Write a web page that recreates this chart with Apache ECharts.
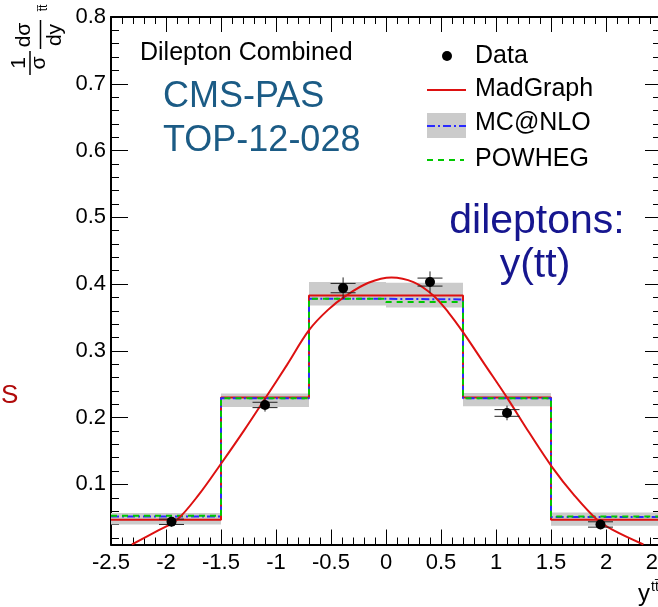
<!DOCTYPE html>
<html>
<head>
<meta charset="utf-8">
<script src="https://cdn.jsdelivr.net/npm/echarts@6.0.0/dist/echarts.min.js"></script>
<style>
  html, body { margin: 0; padding: 0; background: #fff; }
  #main { width: 658px; height: 607px; }
</style>
</head>
<body>
<div id="main"></div>
<script>
// bin edges of the y(ttbar) histogram
var binEdges = [-2.5, -1.5, -0.7, 0, 0.7, 1.5, 2.5];
var madgraph = [0.047, 0.230, 0.383, 0.383, 0.230, 0.047];
var mcatnlo  = [0.052, 0.229, 0.378, 0.377, 0.229, 0.051];
var powheg   = [0.053, 0.229, 0.378, 0.373, 0.229, 0.052];
// grey MC@NLO uncertainty band
var bandLo = [0.040, 0.216, 0.368, 0.365, 0.217, 0.038];
var bandHi = [0.057, 0.236, 0.403, 0.402, 0.237, 0.058];

// data points
var dataX    = [-1.95, -1.10, -0.39, 0.40, 1.10, 1.95];
var dataY    = [0.044, 0.219, 0.394, 0.403, 0.207, 0.040];
var dataErr  = [0.007, 0.010, 0.016, 0.016, 0.011, 0.007];
var dataStat = [0.004, 0.004, 0.007, 0.006, 0.005, 0.004];

// smooth MadGraph curve
var curveX = [-2.31, -2.07, -1.90, -1.70, -1.50, -1.29, -1.09, -0.90, -0.70, -0.53, -0.36, -0.16, 0.05, 0.25, 0.43, 0.57, 0.70, 0.90, 1.10, 1.30, 1.51, 1.71, 1.92, 2.07, 2.34];
var curveY = [0.010, 0.031, 0.047, 0.085, 0.131, 0.181, 0.231, 0.279, 0.331, 0.361, 0.383, 0.402, 0.410, 0.403, 0.383, 0.357, 0.328, 0.279, 0.230, 0.178, 0.126, 0.084, 0.047, 0.031, 0.010];

// ticks
var yMajorTicks = [0.1, 0.2, 0.3, 0.4, 0.5, 0.6, 0.7, 0.8];
var yMinorTicks = [0.02, 0.04, 0.06, 0.08, 0.12, 0.14, 0.16, 0.18, 0.22, 0.24, 0.26, 0.28,
                   0.32, 0.34, 0.36, 0.38, 0.42, 0.44, 0.46, 0.48, 0.52, 0.54, 0.56, 0.58,
                   0.62, 0.64, 0.66, 0.68, 0.72, 0.74, 0.76, 0.78];

var FONT = "'Liberation Sans', Arial, Helvetica, sans-serif";
var RED = '#dd1111';

function histData(vals) {
  var d = vals.map(function (v, i) { return [binEdges[i], v]; });
  d.push([binEdges[binEdges.length - 1], vals[vals.length - 1]]);
  return d;
}

function xAxisCfg(pos, labels) {
  return {
    type: 'value', position: pos, min: -2.5, max: 2.5, interval: 0.5,
    axisLine: { show: true, onZero: false, lineStyle: { color: '#000', width: 2 } },
    axisTick: { show: true, inside: true, length: 15, lineStyle: { color: '#000', width: 1 } },
    minorTick: { show: true, splitNumber: 5, length: 7, lineStyle: { color: '#000', width: 1 } },
    splitLine: { show: false },
    axisLabel: {
      show: labels, color: '#000', fontSize: 22, fontFamily: FONT, margin: 7,
      showMinLabel: true, showMaxLabel: true
    }
  };
}

function yAxisCfg(pos, ticks, len, line, labels) {
  return {
    type: 'value', position: pos, min: 0.01, max: 0.8,
    axisLine: { show: line, onZero: false, lineStyle: { color: '#000', width: 2 } },
    axisTick: { show: true, inside: true, length: len, customValues: ticks, lineStyle: { color: '#000', width: 1 } },
    splitLine: { show: false },
    axisLabel: {
      show: labels, customValues: yMajorTicks, color: '#000', fontSize: 22, fontFamily: FONT, margin: 5,
      formatter: function (v) { return v.toFixed(1); }
    }
  };
}

function txt(x, y, s, size, extra) {
  var st = { text: s, font: size + 'px ' + FONT, fill: '#000', align: 'center', verticalAlign: 'middle' };
  for (var k in extra) st[k] = extra[k];
  return { type: 'text', x: x, y: y, style: st };
}

var chart = echarts.init(document.getElementById('main'));

var option = {
  animation: false,
  backgroundColor: '#fff',
  grid: { left: 111, top: 17, width: 550, height: 527.5, outerBoundsMode: 'none' },
  xAxis: [xAxisCfg('bottom', true), xAxisCfg('top', false)],
  yAxis: [
    yAxisCfg('left', yMajorTicks, 17, true, true),
    yAxisCfg('left', yMinorTicks, 8, false, false),
    yAxisCfg('right', yMajorTicks, 16, true, false),
    yAxisCfg('right', yMinorTicks, 8, false, false)
  ],
  series: [
    {
      name: 'band', type: 'custom', z: 1,
      data: bandLo.map(function (lo, i) { return [binEdges[i], binEdges[i + 1], lo, bandHi[i]]; }),
      encode: { x: [0, 1], y: [2, 3] },
      renderItem: function (params, api) {
        var p0 = api.coord([api.value(0), api.value(3)]);
        var p1 = api.coord([api.value(1), api.value(2)]);
        return {
          type: 'rect',
          shape: { x: p0[0], y: p0[1], width: p1[0] - p0[0], height: p1[1] - p0[1] },
          style: { fill: '#cbcbcb' }
        };
      }
    },
    {
      name: 'MadGraph', type: 'line', step: 'end', symbol: 'none', z: 3,
      data: histData(madgraph),
      lineStyle: { color: RED, width: 2 }
    },
    {
      name: 'MC@NLO', type: 'line', step: 'end', symbol: 'none', z: 4,
      data: histData(mcatnlo),
      lineStyle: { color: '#2a2aff', width: 2, type: [8, 3, 2, 3] }
    },
    {
      name: 'POWHEG', type: 'line', step: 'end', symbol: 'none', z: 4,
      data: histData(powheg),
      lineStyle: { color: '#00c800', width: 2, type: [6, 5] }
    },
    {
      name: 'curve', type: 'line', smooth: 0.35, symbol: 'none', z: 5,
      data: curveX.map(function (x, i) { return [x, curveY[i]]; }),
      lineStyle: { color: RED, width: 2 }
    },
    {
      name: 'Data', type: 'custom', z: 6,
      data: dataX.map(function (x, i) { return [x, dataY[i], dataErr[i], dataStat[i]]; }),
      encode: { x: 0, y: 1 },
      renderItem: function (params, api) {
        var x = api.value(0), y = api.value(1), e = api.value(2), s = api.value(3);
        var c = api.coord([x, y]);
        var top = api.coord([x, y + e]), bot = api.coord([x, y - e]);
        var cu = api.coord([x, y + s]), cl = api.coord([x, y - s]);
        var st = { stroke: '#222', lineWidth: 1 };
        return {
          type: 'group',
          children: [
            { type: 'line', shape: { x1: c[0], y1: top[1], x2: c[0], y2: bot[1] }, style: st },
            { type: 'line', shape: { x1: c[0] - 12.5, y1: cu[1], x2: c[0] + 12.5, y2: cu[1] }, style: st },
            { type: 'line', shape: { x1: c[0] - 12.5, y1: cl[1], x2: c[0] + 12.5, y2: cl[1] }, style: st },
            { type: 'circle', shape: { cx: c[0], cy: c[1], r: 5 }, style: { fill: '#000' } }
          ]
        };
      }
    }
  ],
  graphic: [
    // y axis title, rotated
    {
      type: 'group', x: 0, y: 100, rotation: Math.PI / 2,
      children: [
        txt(37, 19, '1', 21),
        { type: 'line', shape: { x1: 25, y1: 30, x2: 49, y2: 30 }, style: { stroke: '#000', lineWidth: 1.5 } },
        txt(37, 39, 'σ', 21),
        txt(65, 24, 'dσ', 21),
        { type: 'line', shape: { x1: 51, y1: 40.5, x2: 80, y2: 40.5 }, style: { stroke: '#000', lineWidth: 1.5 } },
        txt(65, 55, 'dy', 21),
        txt(92, 44, 't\u0304t\u0304', 12)
      ]
    },
    // x axis title
    txt(638, 594, 'y', 24, { align: 'left' }),
    txt(651, 587, 'tt\u0304', 14, { align: 'left' }),
    // annotations
    txt(140, 53, 'Dilepton Combined', 25, { align: 'left' }),
    txt(163, 97.5, 'CMS-PAS', 36, { align: 'left', fill: '#1b5b85' }),
    txt(163, 141, 'TOP-12-028', 36, { align: 'left', fill: '#1b5b85' }),
    txt(537, 222, 'dileptons:', 41, { fill: '#16168f' }),
    txt(535, 265.5, 'y(tt)', 41, { fill: '#16168f' }),
    txt(1, 396, 'S', 26, { align: 'left', fill: '#b00a0a' }),
    // legend
    { type: 'circle', shape: { cx: 447, cy: 56, r: 5 }, style: { fill: '#000' } },
    txt(475, 56.5, 'Data', 25, { align: 'left' }),
    { type: 'line', shape: { x1: 427, y1: 90, x2: 466, y2: 90 }, style: { stroke: RED, lineWidth: 2 } },
    txt(475, 89.5, 'MadGraph', 25, { align: 'left' }),
    { type: 'rect', shape: { x: 427, y: 113, width: 39, height: 25 }, style: { fill: '#cbcbcb' } },
    { type: 'line', shape: { x1: 427, y1: 126, x2: 466, y2: 126 }, style: { stroke: '#2a2aff', lineWidth: 2, lineDash: [8, 3, 2, 3] } },
    txt(475, 123, 'MC@NLO', 25, { align: 'left' }),
    { type: 'line', shape: { x1: 427, y1: 160, x2: 464, y2: 160 }, style: { stroke: '#00c800', lineWidth: 2, lineDash: [6, 5] } },
    txt(475, 159.5, 'POWHEG', 25, { align: 'left' })
  ]
};

chart.setOption(option);
</script>
</body>
</html>
